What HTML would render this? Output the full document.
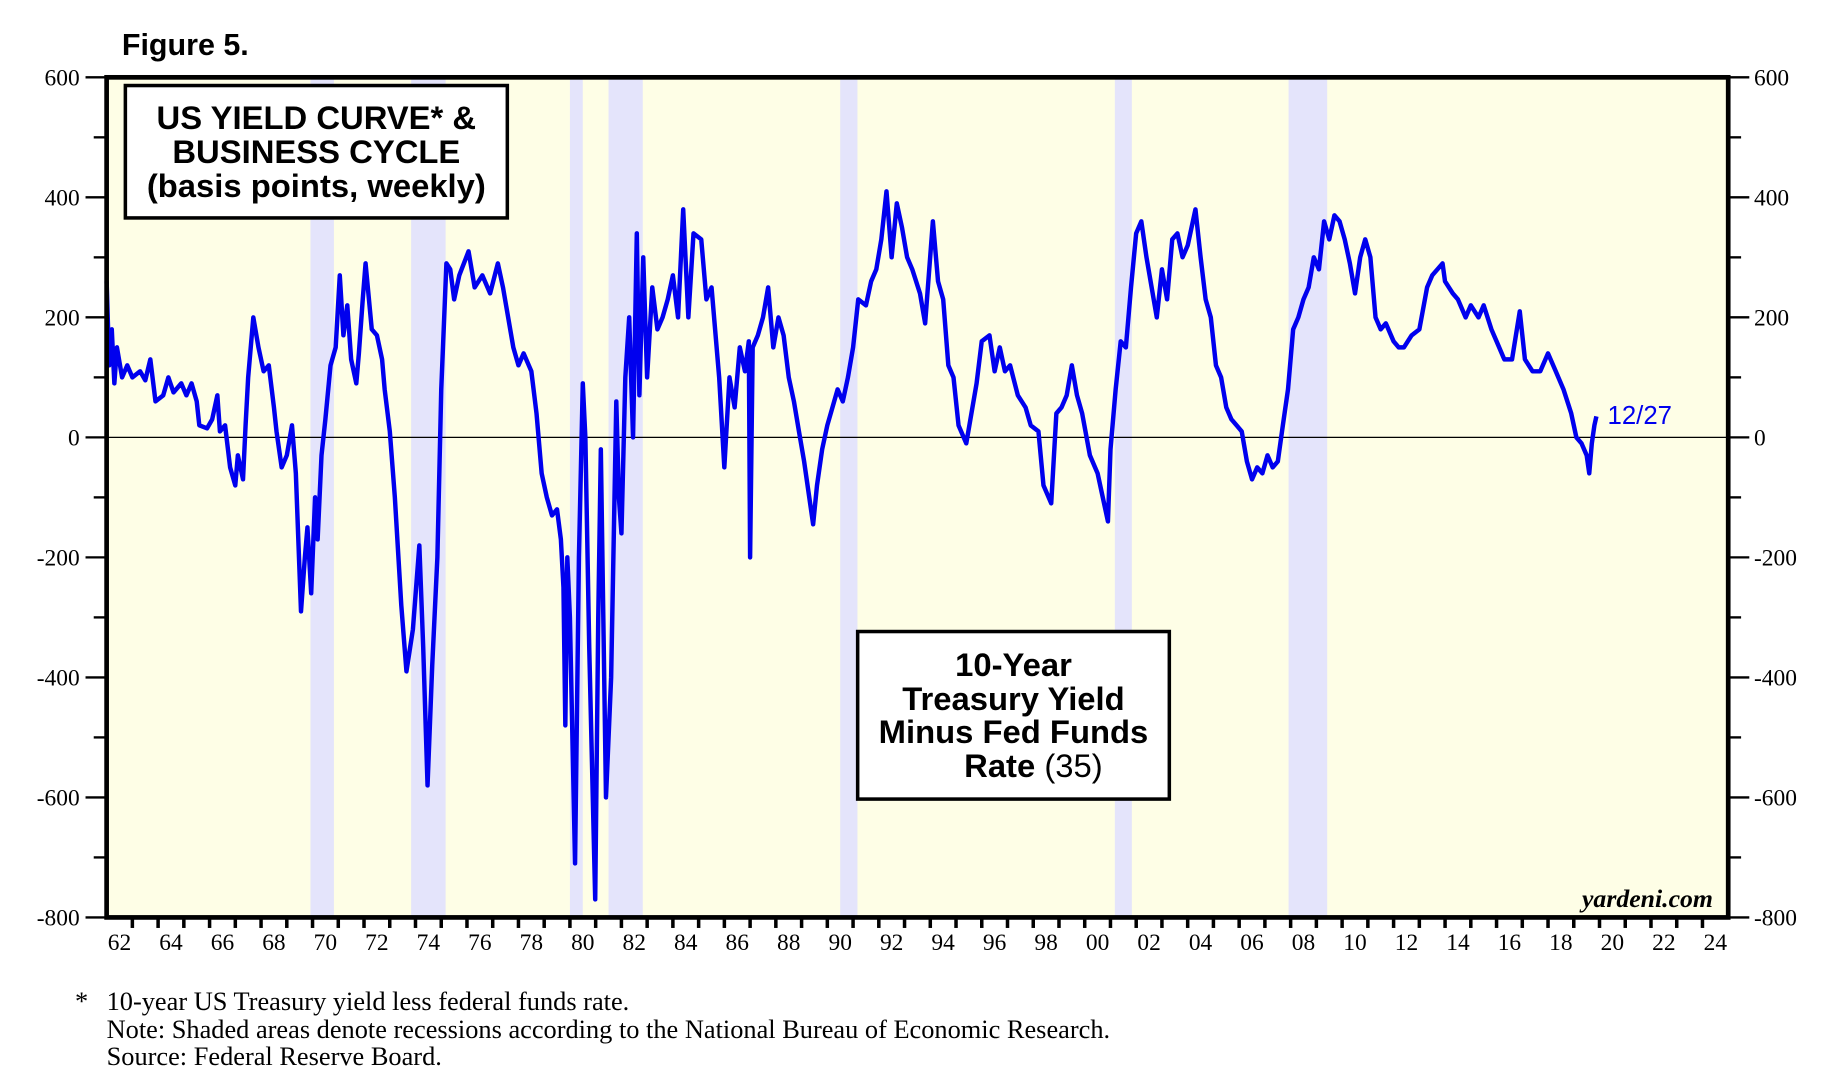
<!DOCTYPE html>
<html><head><meta charset="utf-8"><style>
html,body{margin:0;padding:0;background:#fff;}
svg{display:block;}
</style></head><body>
<svg id="chart" width="1836" height="1092" viewBox="0 0 1567 932" preserveAspectRatio="none" xmlns="http://www.w3.org/2000/svg">
<text x="104" y="47" font-family="Liberation Sans, sans-serif" font-weight="bold" font-size="26">Figure 5.</text>
<rect x="91" y="66" width="1384" height="717" fill="#fefee6"/>
<g id="rec"></g>
<line x1="91" x2="1475" y1="373.3" y2="373.3" stroke="#000" stroke-width="1"/>
<g id="axes"></g>
<path id="series" fill="none" stroke="#0000ee" stroke-width="3.8" stroke-linejoin="round"/>
<rect x="91" y="66" width="1384" height="717" fill="none" stroke="#000" stroke-width="4"/>
<g>
<rect x="107" y="73" width="326" height="113" fill="#fff" stroke="#000" stroke-width="3"/>
<text font-family="Liberation Sans, sans-serif" font-weight="bold" font-size="28" text-anchor="middle">
<tspan x="270" y="110">US YIELD CURVE* &amp;</tspan><tspan x="270" y="139">BUSINESS CYCLE</tspan><tspan x="270" y="168">(basis points, weekly)</tspan></text>
</g>
<g>
<rect x="732" y="539" width="266" height="143" fill="#fff" stroke="#000" stroke-width="3"/>
<text font-family="Liberation Sans, sans-serif" font-weight="bold" font-size="28" text-anchor="middle">
<tspan x="865" y="577">10-Year</tspan><tspan x="865" y="606">Treasury Yield</tspan><tspan x="865" y="634">Minus Fed Funds</tspan><tspan x="882" y="663">Rate <tspan font-weight="normal">(35)</tspan></tspan></text>
</g>
<text x="1372" y="362" font-family="Liberation Sans, sans-serif" font-size="22" fill="#0000ee">12/27</text>
<text x="1462" y="774" text-anchor="end" font-family="Liberation Serif, serif" font-style="italic" font-weight="bold" font-size="22">yardeni.com</text>
<g font-family="Liberation Serif, serif" font-size="22.5">
<text x="64" y="862">*</text>
<text x="91" y="862">10-year US Treasury yield less federal funds rate.</text>
<text x="91" y="886">Note: Shaded areas denote recessions according to the National Bureau of Economic Research.</text>
<text x="91" y="909">Source: Federal Reserve Board.</text>
</g>
</svg>
<script>
const recStart=[1969.92,1973.83,1980.0,1981.5,1990.5,2001.17,2007.92];
const recEnd=[1970.83,1975.17,1980.5,1982.83,1991.17,2001.83,2009.42];
const yTicks=[600,400,200,0,-200,-400,-600,-800];
const xLabels=["62","64","66","68","70","72","74","76","78","80","82","84","86","88","90","92","94","96","98","00","02","04","06","08","10","12","14","16","18","20","22","24"];
const times=[
1962.0,1962.1,1962.2,1962.3,1962.4,1962.6,1962.8,1963.0,1963.3,1963.5,
1963.7,1963.9,1964.2,1964.4,1964.6,1964.9,1965.1,1965.3,1965.5,1965.6,
1965.9,1966.1,1966.3,1966.4,1966.6,1966.8,1967.0,1967.1,1967.3,1967.4,
1967.5,1967.7,1967.9,1968.1,1968.3,1968.5,1968.6,1968.8,1969.0,1969.2,
1969.35,1969.55,1969.7,1969.8,1969.95,1970.1,1970.2,1970.35,1970.5,1970.7,
1970.9,1971.06,1971.2,1971.35,1971.5,1971.7,1971.8,1971.95,1972.06,1972.3,
1972.5,1972.7,1972.8,1973.0,1973.2,1973.45,1973.65,1973.9,1974.15,1974.3,
1974.47,1974.65,1974.85,1975.0,1975.2,1975.35,1975.5,1975.7,1976.06,1976.3,
1976.6,1976.9,1977.2,1977.4,1977.6,1977.8,1978.0,1978.2,1978.5,1978.7,
1978.9,1979.1,1979.3,1979.5,1979.65,1979.75,1979.82,1979.9,1980.0,1980.2,
1980.35,1980.5,1980.6,1980.75,1980.98,1981.1,1981.2,1981.4,1981.6,1981.8,
1981.9,1982.0,1982.15,1982.3,1982.45,1982.6,1982.7,1982.85,1983.0,1983.2,
1983.4,1983.6,1983.8,1984.0,1984.2,1984.4,1984.6,1984.8,1985.1,1985.3,
1985.5,1985.8,1986.0,1986.2,1986.4,1986.6,1986.8,1986.95,1987.0,1987.1,
1987.3,1987.5,1987.7,1987.9,1988.1,1988.3,1988.5,1988.7,1988.9,1989.1,
1989.3,1989.45,1989.6,1989.8,1990.0,1990.2,1990.4,1990.6,1990.8,1991.0,
1991.2,1991.5,1991.7,1991.9,1992.1,1992.3,1992.5,1992.7,1992.9,1993.1,
1993.3,1993.6,1993.8,1994.1,1994.3,1994.5,1994.7,1994.9,1995.1,1995.4,
1995.6,1995.8,1996.0,1996.3,1996.5,1996.7,1996.9,1997.1,1997.4,1997.7,
1997.9,1998.2,1998.4,1998.7,1998.9,1999.1,1999.3,1999.5,1999.7,1999.9,
2000.2,2000.5,2000.7,2000.9,2001.0,2001.2,2001.4,2001.6,2001.8,2002.0,
2002.2,2002.4,2002.6,2002.8,2003.0,2003.2,2003.4,2003.6,2003.8,2004.0,
2004.3,2004.5,2004.7,2004.9,2005.1,2005.3,2005.5,2005.7,2005.9,2006.1,
2006.3,2006.5,2006.7,2006.9,2007.1,2007.3,2007.5,2007.7,2007.9,2008.1,
2008.3,2008.5,2008.7,2008.9,2009.1,2009.3,2009.5,2009.7,2009.9,2010.1,
2010.3,2010.5,2010.7,2010.9,2011.1,2011.3,2011.5,2011.7,2012.0,2012.2,
2012.4,2012.7,2013.0,2013.3,2013.5,2013.9,2014.0,2014.3,2014.5,2014.8,
2015.0,2015.3,2015.5,2015.8,2016.0,2016.3,2016.6,2016.9,2017.1,2017.4,
2017.7,2018.0,2018.3,2018.6,2018.9,2019.1,2019.3,2019.5,2019.6,2019.7,
2019.8,2019.88];
const spread=[
260,120,180,90,150,100,120,100,110,95,
130,60,70,100,75,90,70,90,60,20,
15,30,70,10,20,-50,-80,-30,-70,20,
100,200,150,110,120,50,10,-50,-30,20,
-60,-290,-200,-150,-260,-100,-170,-30,30,120,
150,270,170,220,130,90,140,230,290,180,
170,130,80,10,-100,-280,-390,-320,-180,-350,
-580,-380,-200,80,290,280,230,270,310,250,
270,240,290,250,200,150,120,140,110,40,
-60,-100,-130,-120,-170,-250,-480,-200,-300,-710,
-200,90,0,-350,-770,-300,-20,-600,-400,60,
-100,-160,100,200,0,340,70,300,100,250,
180,200,230,270,200,380,200,340,330,230,
250,100,-50,100,50,150,110,160,-200,150,
170,200,250,150,200,170,100,60,10,-40,
-100,-145,-80,-20,20,50,80,60,100,150,
230,220,260,280,330,410,300,390,350,300,
280,240,190,360,260,230,120,100,20,-10,
40,90,160,170,110,150,110,120,70,50,
20,10,-80,-110,40,50,70,120,70,40,
-30,-60,-100,-140,-20,80,160,150,250,340,
360,300,250,200,280,230,330,340,300,320,
380,300,230,200,120,100,50,30,20,10,
-40,-70,-50,-60,-30,-50,-40,20,80,180,
200,230,250,300,280,360,330,370,360,330,
290,240,300,330,300,200,180,190,160,150,
150,170,180,250,270,290,260,240,230,200,
220,200,220,180,160,130,130,210,130,110,
110,140,110,80,40,0,-10,-30,-60,-10,
20,35];

const X0=91,X1=1475,T0=1962,T1=2025,Y0=66,Y1=783,V0=600,V1=-800;
function xs(t){return X0+(t-T0)*(X1-X0)/(T1-T0);}
function ys(v){return Y0+(V0-v)*(Y1-Y0)/(V0-V1);}
const NS='http://www.w3.org/2000/svg';
function mk(tag,attrs,parent){const e=document.createElementNS(NS,tag);for(const k in attrs)e.setAttribute(k,attrs[k]);parent.appendChild(e);return e;}

const rec=document.getElementById('rec');
for(let i=0;i<recStart.length;i++){
  const r=mk('rect',{x:xs(recStart[i]),y:Y0,width:xs(recEnd[i])-xs(recStart[i]),height:Y1-Y0,fill:'#e4e4fb'},rec);
  
  
}
const ax=document.getElementById('axes');
for(let v=600;v>=-800;v-=100){
  const major=(v%200===0);
  const y=ys(v);
  const l1=mk('line',{x1:major?73:80,x2:X0,y1:y,y2:y,stroke:'#000','stroke-width':2},ax);
  
  
  const l2=mk('line',{x1:X1,x2:major?1493:1486,y1:y,y2:y,stroke:'#000','stroke-width':2},ax);
  
  
}
yTicks.forEach(v=>{
  const y=ys(v)+7;
  const a=mk('text',{x:68,y:y,'text-anchor':'end','font-family':'Liberation Serif, serif','font-size':20},ax);
  a.textContent=String(v);
  
  
  const b=mk('text',{x:1497,y:y,'font-family':'Liberation Serif, serif','font-size':20},ax);
  b.textContent=String(v);
  
  
});
for(let t=1963;t<=2024;t++){
  const l=mk('line',{x1:xs(t),x2:xs(t),y1:Y1,y2:Y1+9,stroke:'#000','stroke-width':3},ax);
  
  
}
xLabels.forEach((s,i)=>{
  const t=1962+2*i+0.5;
  const e=mk('text',{x:xs(t),y:811,'text-anchor':'middle','font-family':'Liberation Serif, serif','font-size':20},ax);
  e.textContent=s;
  
  
});
let d='';
const n=Math.min(times.length,spread.length);
for(let i=0;i<n;i++){d+=(i?'L':'M')+xs(times[i]).toFixed(1)+' '+ys(spread[i]).toFixed(1);}
document.getElementById('series').setAttribute('d',d);
</script>
</body></html>
